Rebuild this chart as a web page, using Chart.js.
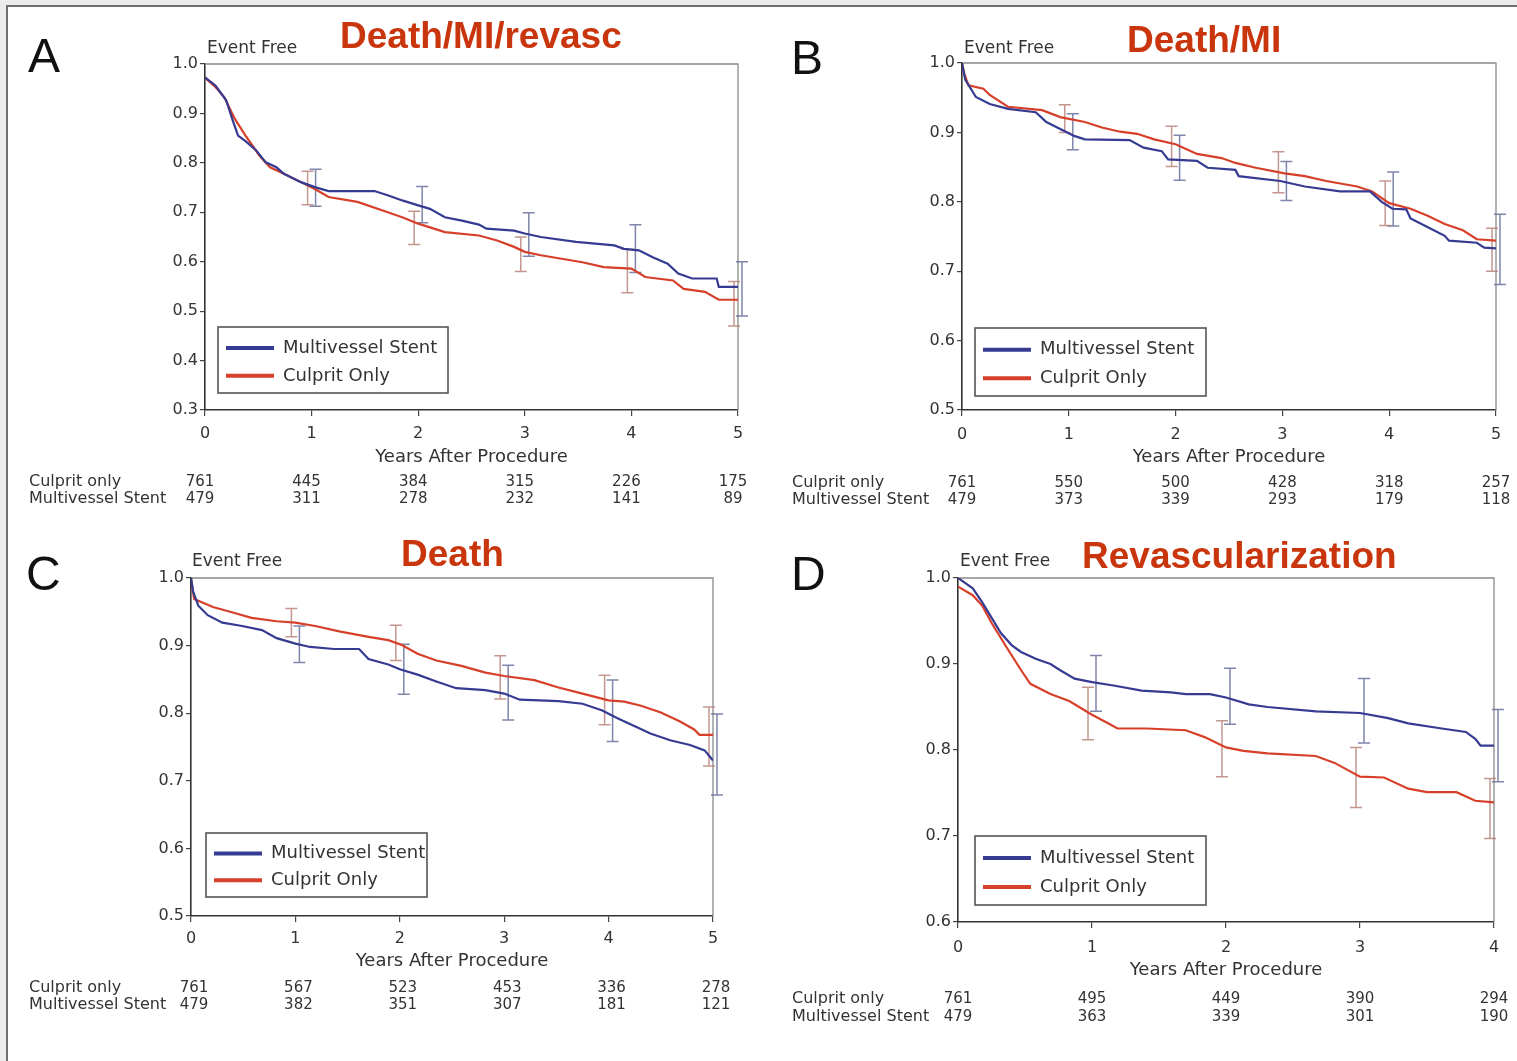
<!DOCTYPE html>
<html>
<head>
<meta charset="utf-8">
<script src="https://cdn.jsdelivr.net/npm/chart.js@4.4.1/dist/chart.umd.min.js"></script>
<style>
  html, body { margin: 0; padding: 0; background: #ececec; }
  body { width: 1517px; height: 1061px; position: relative; overflow: hidden; }
  #frame { position: absolute; left: 6px; top: 5px; right: 0; bottom: 0; background: #fff;
           border-left: 2px solid #6e6e6e; border-top: 2px solid #6e6e6e; }
  canvas { position: absolute; }
</style>
</head>
<body>
<div id="frame"></div>
<canvas id="pA" width="760" height="520" style="left:0;top:0;width:760px;height:520px"></canvas>
<canvas id="pB" width="757" height="520" style="left:760px;top:0;width:757px;height:520px"></canvas>
<canvas id="pC" width="760" height="541" style="left:0;top:520px;width:760px;height:541px"></canvas>
<canvas id="pD" width="757" height="541" style="left:760px;top:520px;width:757px;height:541px"></canvas>
<script>
// ---- data ----
const seriesNames = ['Multivessel Stent', 'Culprit Only'];
const riskNames = ['Culprit only', 'Multivessel Stent'];

// A: Death/MI/revasc
const yearsA_MV = [0, 0.1, 0.2, 0.26, 0.31, 0.38, 0.48, 0.57, 0.67, 0.74, 0.9, 1.03, 1.16, 1.59, 1.72, 1.85, 2.0, 2.11, 2.25, 2.41, 2.57, 2.64, 2.9, 3.0, 3.15, 3.48, 3.84, 3.93, 4.07, 4.2, 4.34, 4.44, 4.57, 4.8, 4.82, 5.0];
const survA_MV = [0.973, 0.956, 0.926, 0.886, 0.855, 0.844, 0.825, 0.801, 0.791, 0.778, 0.761, 0.751, 0.743, 0.743, 0.734, 0.724, 0.714, 0.707, 0.690, 0.683, 0.675, 0.667, 0.663, 0.657, 0.650, 0.640, 0.633, 0.626, 0.623, 0.609, 0.596, 0.576, 0.566, 0.566, 0.549, 0.549];
const yearsA_CO = [0, 0.1, 0.18, 0.28, 0.38, 0.51, 0.61, 0.74, 0.9, 1.03, 1.16, 1.43, 1.66, 1.85, 2.0, 2.25, 2.57, 2.74, 2.9, 3.0, 3.15, 3.54, 3.74, 4.0, 4.13, 4.39, 4.49, 4.69, 4.82, 5.0];
const survA_CO = [0.972, 0.953, 0.933, 0.889, 0.855, 0.815, 0.791, 0.778, 0.761, 0.747, 0.731, 0.721, 0.704, 0.690, 0.677, 0.660, 0.653, 0.643, 0.630, 0.620, 0.613, 0.599, 0.589, 0.586, 0.569, 0.562, 0.545, 0.539, 0.523, 0.523];
const ciA_MV = [[0.712, 0.787], [0.679, 0.752], [0.611, 0.699], [0.578, 0.675], [0.49, 0.60]];
const ciA_CO = [[0.715, 0.783], [0.635, 0.702], [0.58, 0.65], [0.537, 0.625], [0.47, 0.56]];
const riskA_CO = [761, 445, 384, 315, 226, 175];
const riskA_MV = [479, 311, 278, 232, 141, 89];

// B: Death/MI
const yearsB_MV = [0, 0.03, 0.13, 0.26, 0.43, 0.69, 0.79, 0.92, 1.05, 1.15, 1.57, 1.7, 1.87, 1.93, 2.2, 2.3, 2.56, 2.59, 2.98, 3.21, 3.54, 3.82, 3.93, 4.03, 4.16, 4.2, 4.33, 4.52, 4.56, 4.82, 4.89, 5.0];
const survB_MV = [1.0, 0.976, 0.951, 0.941, 0.934, 0.929, 0.915, 0.905, 0.895, 0.890, 0.889, 0.878, 0.873, 0.861, 0.859, 0.849, 0.846, 0.837, 0.830, 0.822, 0.815, 0.815, 0.800, 0.790, 0.789, 0.776, 0.766, 0.751, 0.744, 0.741, 0.734, 0.733];
const yearsB_CO = [0, 0.02, 0.06, 0.2, 0.26, 0.43, 0.75, 0.92, 1.15, 1.31, 1.48, 1.64, 1.8, 2.0, 2.2, 2.43, 2.56, 2.75, 3.02, 3.21, 3.41, 3.7, 3.84, 4.0, 4.2, 4.36, 4.52, 4.69, 4.82, 5.0];
const survB_CO = [1.0, 0.985, 0.968, 0.963, 0.954, 0.937, 0.932, 0.922, 0.915, 0.907, 0.901, 0.898, 0.890, 0.883, 0.869, 0.863, 0.856, 0.849, 0.841, 0.837, 0.830, 0.822, 0.815, 0.798, 0.790, 0.780, 0.768, 0.759, 0.746, 0.744];
const ciB_MV = [[0.875, 0.927], [0.831, 0.896], [0.802, 0.858], [0.765, 0.843], [0.681, 0.782]];
const ciB_CO = [[0.900, 0.940], [0.851, 0.909], [0.813, 0.872], [0.766, 0.830], [0.700, 0.762]];
const riskB_CO = [761, 550, 500, 428, 318, 257];
const riskB_MV = [479, 373, 339, 293, 179, 118];

// C: Death
const yearsC_MV = [0, 0.02, 0.07, 0.16, 0.3, 0.49, 0.68, 0.82, 1.0, 1.14, 1.37, 1.61, 1.7, 1.89, 2.0, 2.17, 2.35, 2.54, 2.82, 3.0, 3.15, 3.52, 3.75, 3.94, 4.08, 4.22, 4.4, 4.59, 4.78, 4.92, 5.0];
const survC_MV = [1.0, 0.980, 0.959, 0.945, 0.934, 0.929, 0.923, 0.911, 0.903, 0.898, 0.895, 0.895, 0.880, 0.872, 0.865, 0.857, 0.847, 0.837, 0.834, 0.829, 0.820, 0.818, 0.814, 0.804, 0.793, 0.783, 0.770, 0.760, 0.753, 0.745, 0.730];
const yearsC_CO = [0, 0.03, 0.12, 0.21, 0.4, 0.58, 0.82, 1.0, 1.19, 1.42, 1.7, 1.89, 2.02, 2.17, 2.35, 2.59, 2.82, 3.0, 3.29, 3.52, 3.75, 4.0, 4.15, 4.31, 4.5, 4.68, 4.82, 4.87, 5.0];
const survC_CO = [1.0, 0.969, 0.963, 0.957, 0.949, 0.941, 0.936, 0.934, 0.929, 0.921, 0.913, 0.908, 0.901, 0.888, 0.878, 0.870, 0.860, 0.855, 0.849, 0.838, 0.829, 0.819, 0.817, 0.811, 0.801, 0.788, 0.776, 0.768, 0.768];
const ciC_MV = [[0.875, 0.929], [0.828, 0.902], [0.790, 0.871], [0.758, 0.849], [0.679, 0.799]];
const ciC_CO = [[0.913, 0.955], [0.878, 0.930], [0.821, 0.885], [0.783, 0.856], [0.722, 0.809]];
const riskC_CO = [761, 567, 523, 453, 336, 278];
const riskC_MV = [479, 382, 351, 307, 181, 121];

// D: Revascularization
const yearsD_MV = [0, 0.11, 0.18, 0.25, 0.32, 0.4, 0.47, 0.58, 0.69, 0.76, 0.87, 1.0, 1.16, 1.37, 1.59, 1.7, 1.88, 2.0, 2.17, 2.31, 2.67, 3.0, 3.21, 3.36, 3.61, 3.79, 3.86, 3.9, 4.0];
const survD_MV = [1.0, 0.988, 0.972, 0.954, 0.936, 0.922, 0.914, 0.906, 0.900, 0.893, 0.883, 0.879, 0.875, 0.869, 0.867, 0.865, 0.865, 0.861, 0.853, 0.850, 0.845, 0.843, 0.837, 0.831, 0.825, 0.821, 0.813, 0.805, 0.805];
const yearsD_CO = [0, 0.11, 0.18, 0.25, 0.36, 0.47, 0.54, 0.69, 0.83, 1.0, 1.12, 1.19, 1.41, 1.7, 1.84, 2.0, 2.13, 2.31, 2.67, 2.81, 3.0, 3.18, 3.36, 3.5, 3.72, 3.86, 4.0];
const survD_CO = [0.990, 0.980, 0.968, 0.948, 0.920, 0.893, 0.877, 0.865, 0.857, 0.841, 0.831, 0.825, 0.825, 0.823, 0.815, 0.803, 0.799, 0.796, 0.793, 0.785, 0.769, 0.768, 0.755, 0.751, 0.751, 0.741, 0.739];
const ciD_MV = [[0.845, 0.910], [0.830, 0.895], [0.808, 0.883], [0.763, 0.847]];
const ciD_CO = [[0.812, 0.873], [0.769, 0.834], [0.733, 0.803], [0.697, 0.767]];
const riskD_CO = [761, 495, 449, 390, 294];
const riskD_MV = [479, 363, 339, 301, 190];

const BLUE = '#363b92';
const RED = '#d63f29';
const BLUE_BAR = 'rgba(95,102,150,0.8)';
const RED_BAR = 'rgba(180,125,115,0.8)';
const TEXT = '#333';
const FONT = 'DejaVu Sans';

function pts(xs, ys) {
  return xs.map((x, i) => ({ x: x, y: ys[i] }));
}

function drawBars(ctx, xs, ys, ci, color, dx) {
  ctx.strokeStyle = color;
  ctx.lineWidth = 1.5;
  ci.forEach((r, i) => {
    const px = xs.getPixelForValue(i + 1) + dx;
    const lo = ys.getPixelForValue(r[0]);
    const hi = ys.getPixelForValue(r[1]);
    ctx.beginPath();
    ctx.moveTo(px, lo); ctx.lineTo(px, hi);
    ctx.moveTo(px - 6, lo); ctx.lineTo(px + 6, lo);
    ctx.moveTo(px - 6, hi); ctx.lineTo(px + 6, hi);
    ctx.stroke();
  });
}

function decor(p) {
  return {
    id: 'decor',
    beforeDatasetsDraw(chart) {
      const ctx = chart.ctx, a = chart.chartArea;
      const xs = chart.scales.x, ys = chart.scales.y;
      ctx.save();
      ctx.strokeStyle = '#8a8a8a';
      ctx.lineWidth = 1.3;
      ctx.beginPath();
      ctx.moveTo(a.left, a.top); ctx.lineTo(a.right, a.top); ctx.lineTo(a.right, a.bottom);
      ctx.stroke();
      drawBars(ctx, xs, ys, p.ciMV, BLUE_BAR, 4);
      drawBars(ctx, xs, ys, p.ciCO, RED_BAR, -4);
      ctx.restore();
    },
    afterDraw(chart) {
      const ctx = chart.ctx, a = chart.chartArea;
      const xs = chart.scales.x;
      ctx.save();
      ctx.textBaseline = 'middle';

      // panel letter
      ctx.fillStyle = '#111';
      ctx.font = '48px "Liberation Sans"';
      ctx.textAlign = 'left';
      ctx.fillText(p.letter, p.letterX, p.letterY);

      // red title
      ctx.fillStyle = '#c9350c';
      ctx.font = 'bold 37px "Liberation Sans"';
      ctx.fillText(p.title, p.titleX, p.titleY);

      // "Event Free"
      ctx.fillStyle = TEXT;
      ctx.font = '17px "' + FONT + '"';
      ctx.fillText('Event Free', p.efX, p.efY);

      // x axis title
      ctx.font = '18px "' + FONT + '"';
      ctx.textAlign = 'center';
      ctx.fillText('Years After Procedure', (a.left + a.right) / 2, p.axisTitleY);

      // legend box
      const L = p.legend;
      ctx.fillStyle = '#fff';
      ctx.fillRect(L.x, L.y, L.w, L.h);
      ctx.strokeStyle = '#555';
      ctx.lineWidth = 1.6;
      ctx.strokeRect(L.x, L.y, L.w, L.h);
      const rows = [[BLUE, seriesNames[0]], [RED, seriesNames[1]]];
      rows.forEach((r, i) => {
        const yy = L.y + L.h * (i === 0 ? 0.32 : 0.74);
        ctx.strokeStyle = r[0];
        ctx.lineWidth = 4;
        ctx.beginPath();
        ctx.moveTo(L.x + 8, yy); ctx.lineTo(L.x + 56, yy);
        ctx.stroke();
        ctx.fillStyle = TEXT;
        ctx.font = '18px "' + FONT + '"';
        ctx.textAlign = 'left';
        ctx.fillText(r[1], L.x + 65, yy);
      });

      // numbers at risk
      ctx.fillStyle = TEXT;
      ctx.font = '16px "' + FONT + '"';
      ctx.textAlign = 'left';
      ctx.fillText(riskNames[0], p.riskX, p.riskY[0]);
      ctx.fillText(riskNames[1], p.riskX, p.riskY[1]);
      ctx.font = '15px "' + FONT + '"';
      ctx.textAlign = 'center';
      p.riskCO.forEach((n, i) => {
        ctx.fillText(String(n), xs.getPixelForValue(i) + p.riskDx, p.riskY[0]);
      });
      p.riskMV.forEach((n, i) => {
        ctx.fillText(String(n), xs.getPixelForValue(i) + p.riskDx, p.riskY[1]);
      });
      ctx.restore();
    }
  };
}

function makePanel(id, p) {
  const canvas = document.getElementById(id);
  const W = canvas.width, H = canvas.height;
  const yW = 50, xH = 40;
  const tickFont = { family: FONT, size: 16 };
  new Chart(canvas, {
    type: 'line',
    data: {
      datasets: [
        { label: seriesNames[0], data: pts(p.yearsMV, p.survMV), borderColor: BLUE, borderWidth: 2.2,
          pointRadius: 0, tension: 0, fill: false },
        { label: seriesNames[1], data: pts(p.yearsCO, p.survCO), borderColor: RED, borderWidth: 2.2,
          pointRadius: 0, tension: 0, fill: false }
      ]
    },
    options: {
      responsive: false,
      animation: false,
      events: [],
      layout: { padding: { left: p.area.l - yW, right: W - p.area.r, top: p.area.t, bottom: H - p.area.b - xH } },
      plugins: { legend: { display: false }, tooltip: { enabled: false } },
      scales: {
        x: {
          type: 'linear', min: 0, max: p.xMax,
          afterFit: (s) => { s.height = xH; },
          ticks: { stepSize: 1, color: TEXT, font: tickFont, padding: p.xPad, maxRotation: 0 },
          grid: { drawOnChartArea: false, drawTicks: true, tickLength: 6, color: '#444', lineWidth: 1.2 },
          border: { display: true, color: '#333', width: 1.6 }
        },
        y: {
          type: 'linear', min: p.yMin, max: 1.0,
          afterFit: (s) => { s.width = yW; },
          ticks: { stepSize: 0.1, color: TEXT, font: tickFont, padding: 2,
                   callback: (v) => Number(v).toFixed(1) },
          grid: { drawOnChartArea: false, drawTicks: true, tickLength: 5, color: '#444', lineWidth: 1.2 },
          border: { display: true, color: '#333', width: 1.6 }
        }
      }
    },
    plugins: [decor(p)]
  });
}

makePanel('pA', {
  yearsMV: yearsA_MV, survMV: survA_MV, yearsCO: yearsA_CO, survCO: survA_CO,
  ciMV: ciA_MV, ciCO: ciA_CO, riskCO: riskA_CO, riskMV: riskA_MV,
  xMax: 5, yMin: 0.3, area: { l: 205, r: 738, t: 64, b: 410 }, xPad: 8,
  letter: 'A', letterX: 28, letterY: 59, title: 'Death/MI/revasc', titleX: 340, titleY: 38,
  efX: 207, efY: 49, axisTitleY: 457,
  legend: { x: 218, y: 327, w: 230, h: 66 },
  riskX: 29, riskY: [482, 499], riskDx: -5
});

makePanel('pB', {
  yearsMV: yearsB_MV, survMV: survB_MV, yearsCO: yearsB_CO, survCO: survB_CO,
  ciMV: ciB_MV, ciCO: ciB_CO, riskCO: riskB_CO, riskMV: riskB_MV,
  xMax: 5, yMin: 0.5, area: { l: 202, r: 736, t: 63, b: 410 }, xPad: 9,
  letter: 'B', letterX: 31, letterY: 61, title: 'Death/MI', titleX: 367, titleY: 42,
  efX: 204, efY: 49, axisTitleY: 457,
  legend: { x: 215, y: 328, w: 231, h: 68 },
  riskX: 32, riskY: [483, 500], riskDx: 0
});

makePanel('pC', {
  yearsMV: yearsC_MV, survMV: survC_MV, yearsCO: yearsC_CO, survCO: survC_CO,
  ciMV: ciC_MV, ciCO: ciC_CO, riskCO: riskC_CO, riskMV: riskC_MV,
  xMax: 5, yMin: 0.5, area: { l: 191, r: 713, t: 58, b: 396 }, xPad: 7,
  letter: 'C', letterX: 26, letterY: 57, title: 'Death', titleX: 401, titleY: 36,
  efX: 192, efY: 42, axisTitleY: 441,
  legend: { x: 206, y: 313, w: 221, h: 64 },
  riskX: 29, riskY: [468, 485], riskDx: 3
});

makePanel('pD', {
  yearsMV: yearsD_MV, survMV: survD_MV, yearsCO: yearsD_CO, survCO: survD_CO,
  ciMV: ciD_MV, ciCO: ciD_CO, riskCO: riskD_CO, riskMV: riskD_MV,
  xMax: 4, yMin: 0.6, area: { l: 198, r: 734, t: 58, b: 402 }, xPad: 10,
  letter: 'D', letterX: 31, letterY: 57, title: 'Revascularization', titleX: 322, titleY: 38,
  efX: 200, efY: 42, axisTitleY: 450,
  legend: { x: 215, y: 316, w: 231, h: 69 },
  riskX: 32, riskY: [479, 497], riskDx: 0
});
</script>
</body>
</html>
